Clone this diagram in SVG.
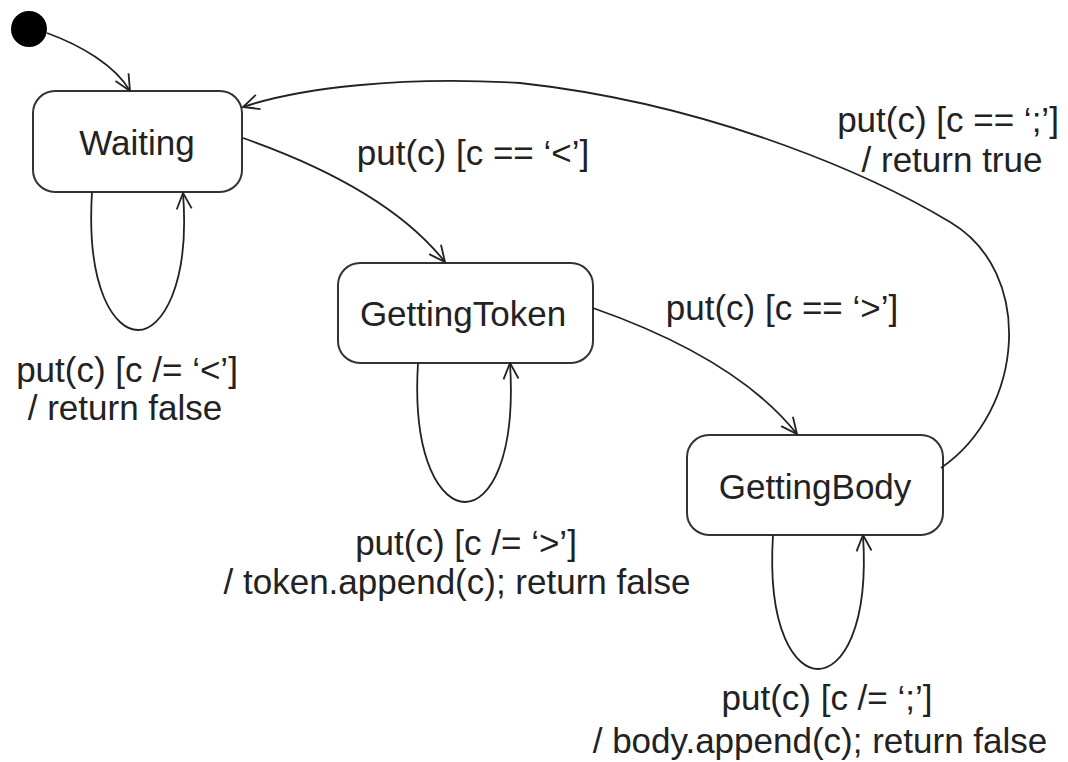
<svg xmlns="http://www.w3.org/2000/svg" width="1068" height="762" viewBox="0 0 1068 762">
<defs>
<marker id="arr" viewBox="0 0 18 18" refX="17" refY="9" markerWidth="18" markerHeight="18" markerUnits="userSpaceOnUse" orient="auto">
<path d="M1,1.5 L17,9 L1,16.5" fill="none" stroke="#222" stroke-width="1.8"/>
</marker>
<style>
.state{fill:#fff;stroke:#333;stroke-width:2}
.name{font-family:"Liberation Sans",Arial,sans-serif;font-size:35px;fill:#222;text-anchor:middle}
.lbl{font-family:"Liberation Sans",Arial,sans-serif;font-size:35px;fill:#222;text-anchor:middle}
.edge{fill:none;stroke:#222;stroke-width:1.8;marker-end:url(#arr)}
</style>
</defs>
<rect width="1068" height="762" fill="#fff"/>
<g id="initial"><circle cx="29" cy="29" r="18" fill="#000"/></g>
<g id="waiting"><rect class="state" x="33" y="91" width="209" height="101" rx="22"/><text class="name" x="137" y="155">Waiting</text></g>
<g id="gettingtoken"><rect class="state" x="338" y="263" width="255" height="100" rx="22"/><text class="name" x="463" y="326">GettingToken</text></g>
<g id="gettingbody"><rect class="state" x="687" y="435" width="256" height="100" rx="22"/><text class="name" x="815" y="499">GettingBody</text></g>
<g id="connectors">
<path class="edge" d="M47,33 C80,45 115,65 130,91"/>
<path class="edge" d="M243,138 C320,165 400,205 445,262"/>
<path class="edge" d="M593,308 C670,335 750,375 797,434"/>
<path class="edge" d="M941,468 C1025,410 1035,272 950,222 C880,180 720,105 520,83 C400,76 300,88 243,107"/>
<path class="edge" d="M92,192 C86,290 115,330 138,330 C162,330 190,285 183,193"/>
<path class="edge" d="M418,363 C412,462 442,502 465,502 C490,502 516,458 510,363"/>
<path class="edge" d="M773,535 C767,632 796,669 818,669 C842,669 869,628 863,535"/>
</g>
<g id="labels">
<text class="lbl" x="473" y="165">put(c) [c == ‘&lt;’]</text>
<text class="lbl" x="782" y="320">put(c) [c == ‘&gt;’]</text>
<text class="lbl" x="948" y="132">put(c) [c == ‘;’]</text>
<text class="lbl" x="952" y="172">/ return true</text>
<text class="lbl" x="127" y="382">put(c) [c /= ‘&lt;’]</text>
<text class="lbl" x="125" y="420">/ return false</text>
<text class="lbl" x="466" y="555">put(c) [c /= ‘&gt;’]</text>
<text class="lbl" x="457" y="594">/ token.append(c); return false</text>
<text class="lbl" x="827" y="710">put(c) [c /= ‘;’]</text>
<text class="lbl" x="820" y="753">/ body.append(c); return false</text>
</g>
</svg>
